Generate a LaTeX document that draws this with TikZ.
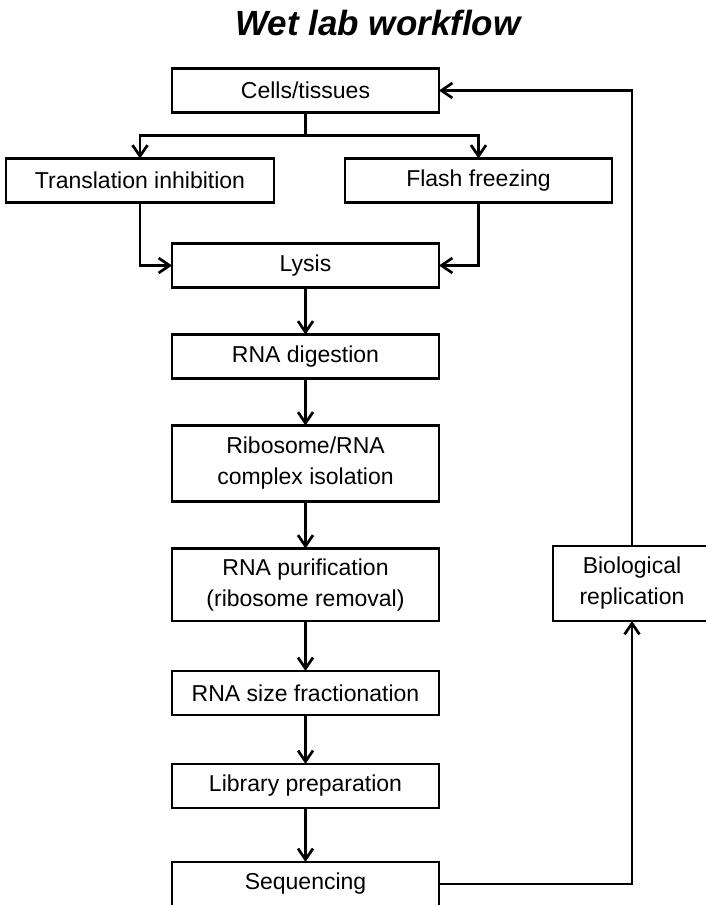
\documentclass[tikz,border=0pt]{standalone}
\usepackage{fontspec}
\setmainfont{Liberation Sans}
\usetikzlibrary{positioning, arrows.meta}

\tikzset{
  stepbox/.style={draw, rectangle, minimum width=267pt, minimum height=44pt,
    inner ysep=10pt, outer sep=0pt, align=center, font=\fontsize{23}{31}\selectfont},
}

\begin{document}
\begin{tikzpicture}[->,>={Straight Barb[length=11pt,width=15pt]},x=1pt,y=1pt,node distance=47pt,line width=2.7pt]
      \useasboundingbox (0,0) rectangle (705,-905);
      \node[anchor=base, font=\fontsize{35}{40}\selectfont\bfseries\itshape] (title) at (378,-35) {Wet lab workflow};

      \node[stepbox] (cells) at (305.5,-90.5) {Cells/tissues};
      \node[stepbox, minimum width=268pt] (trans) at (140,-180.5) {Translation inhibition};
      \node[stepbox] (flash) at (478.5,-180.5) {Flash freezing};
      \node[stepbox] (lysis) at (305.5,-265.5) {Lysis};
      \node[stepbox] (digest) [below=of lysis] {RNA digestion};
      \node[stepbox, minimum height=76pt] (ribo) [below=of digest] {Ribosome/RNA\\complex isolation};
      \node[stepbox, minimum height=72pt] (purif) [below=of ribo] {RNA purification\\(ribosome removal)};
      \node[stepbox] (size) [below=50pt of purif] {RNA size fractionation};
      \node[stepbox] (library) [below=49pt of size] {Library preparation};
      \node[stepbox] (seq) [below=54pt of library] {Sequencing};
      \node[stepbox, minimum width=158pt, minimum height=75pt] (bio) at (632,-583.5) {Biological\\replication};
      \coordinate[below=23pt of cells.south] (split);

      \draw (cells.south) -- (split) -| (trans);
      \draw (split) -| (flash);
      \draw (trans) |- (lysis);
      \draw (flash) |- (lysis);
      \draw (lysis) -- (digest);
      \draw (digest) -- (ribo);
      \draw (ribo) -- (purif);
      \draw (purif) -- (size);
      \draw (size) -- (library);
      \draw (library) -- (seq);
      \draw (seq) -| (bio);
      \draw (bio) |- (cells);
    \end{tikzpicture}
\end{document}
